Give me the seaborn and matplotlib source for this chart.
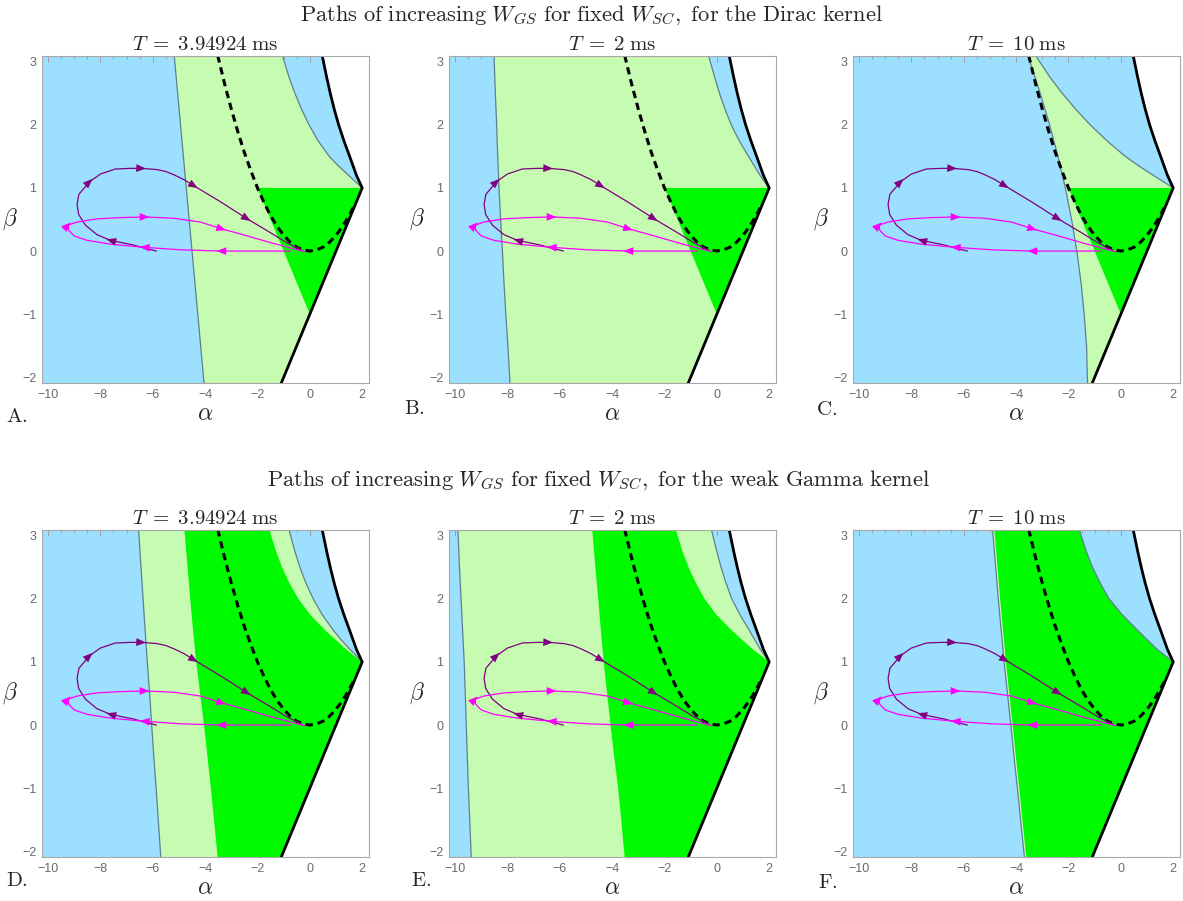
import numpy as np
import pandas as pd
import matplotlib
matplotlib.use("Agg")
import matplotlib.pyplot as plt
from matplotlib.ticker import MultipleLocator
import seaborn as sns

sns.set_style("white")
plt.rcParams["mathtext.fontset"] = "cm"
plt.rcParams["font.family"] = ["Liberation Sans", "DejaVu Sans"]

# ---------------------------------------------------------------------------
# Data
# ---------------------------------------------------------------------------
row_titles = [
    r"$\mathrm{Paths\ of\ increasing\ }W_{GS}\mathrm{\ for\ fixed\ }W_{SC}\mathrm{,\ for\ the\ Dirac\ kernel}$",
    r"$\mathrm{Paths\ of\ increasing\ }W_{GS}\mathrm{\ for\ fixed\ }W_{SC}\mathrm{,\ for\ the\ weak\ Gamma\ kernel}$",
]
panel_letters = ["A.", "B.", "C.", "D.", "E.", "F."]
panel_T = ["3.94924", "2", "10", "3.94924", "2", "10"]

# beta levels at which the near-vertical boundaries are sampled
beta_edge = [3.1, 2.5, 2.0, 1.5, 1.0, 0.5, 0.0, -0.5, -1.0, -1.5, -2.1]
# beta levels at which the curved boundaries ending at (2, 1) are sampled
beta_up = [3.1, 2.75, 2.5, 2.25, 2.0, 1.75, 1.5, 1.35, 1.2, 1.1, 1.0]

# left boundary (grey line) of each panel, alpha at beta_edge
left_A = [-5.18, -5.05, -4.94, -4.83, -4.72, -4.61, -4.50, -4.39, -4.28, -4.17, -4.04]
left_B = [-8.51, -8.46, -8.41, -8.37, -8.32, -8.26, -8.19, -8.13, -8.06, -7.98, -7.90]
left_C = [-3.55, -3.08, -2.72, -2.40, -2.12, -1.88, -1.68, -1.52, -1.40, -1.31, -1.27]
left_D = [-6.54, -6.45, -6.37, -6.29, -6.21, -6.12, -6.04, -5.96, -5.87, -5.79, -5.69]
left_E = [-9.89, -9.83, -9.77, -9.71, -9.65, -9.61, -9.57, -9.53, -9.49, -9.44, -9.38]
left_F = [-4.90, -4.78, -4.68, -4.57, -4.46, -4.33, -4.20, -4.08, -3.95, -3.83, -3.68]

# upper grey curve of each panel, alpha at beta_up
upper_A = [-1.05, -0.79, -0.57, -0.32, -0.03, 0.31, 0.74, 1.09, 1.48, 1.74, 2.0]
upper_B = [-0.32, -0.08, 0.10, 0.31, 0.55, 0.85, 1.21, 1.43, 1.65, 1.82, 2.0]
upper_C = [-3.26, -2.70, -2.24, -1.73, -1.17, -0.54, 0.17, 0.68, 1.24, 1.62, 2.0]
upper_D = [-0.80, -0.57, -0.38, -0.15, 0.13, 0.47, 0.90, 1.20, 1.53, 1.77, 2.0]
upper_E = [-0.21, 0.00, 0.16, 0.35, 0.57, 0.88, 1.24, 1.45, 1.66, 1.83, 2.0]
upper_F = [-1.59, -1.32, -1.08, -0.79, -0.45, 0.05, 0.64, 1.01, 1.38, 1.69, 2.0]

# stable (bright green) region for the weak Gamma kernel
green_left_D = [-4.79, -4.67, -4.57, -4.46, -4.34, -4.19, -4.04, -3.91, -3.78, -3.66, -3.52]
green_left_E = [-4.76, -4.64, -4.53, -4.43, -4.32, -4.19, -4.06, -3.92, -3.77, -3.65, -3.52]
green_left_F = [-4.83, -4.71, -4.61, -4.50, -4.39, -4.26, -4.13, -4.01, -3.88, -3.76, -3.61]
green_top_D = [-1.55, -1.29, -1.06, -0.78, -0.44, 0.01, 0.59, 0.99, 1.38, 1.69, 2.0]
green_top_E = [-1.57, -1.31, -1.08, -0.80, -0.47, -0.02, 0.57, 0.97, 1.37, 1.69, 2.0]
green_top_F = upper_F

# stable triangle for the Dirac kernel
tri_alpha = [-2.0, 2.0, 0.0]
tri_beta = [1.0, 1.0, -1.0]

# outer (black) boundary
black_up_alpha = [0.47, 0.645, 0.78, 0.93, 1.10, 1.30, 1.52, 1.65, 1.78, 1.89, 2.0]
black_low_alpha = [2.0, -1.1]
black_low_beta = [1.0, -2.1]

# dashed curve
dash_alpha = [-3.52, -3.25, -3.0, -2.75, -2.5, -2.25, -2.0, -1.75, -1.5, -1.25,
              -1.0, -0.75, -0.5, -0.25, 0.0, 0.25, 0.5, 0.75, 1.0, 1.25, 1.5, 1.7]
dash_beta = [3.1, 2.64, 2.25, 1.89, 1.56, 1.27, 1.0, 0.77, 0.56, 0.39,
             0.25, 0.14, 0.06, 0.02, 0.0, 0.02, 0.06, 0.14, 0.25, 0.39, 0.56, 0.72]

# paths of increasing W_GS
purple_alpha = [-5.86, -6.34, -6.73, -7.62, -8.13, -8.57, -8.83, -8.89, -8.82, -8.41,
                -8.0, -7.43, -6.85, -6.41, -5.83, -5.5, -5.2, -4.8, -4.41, -3.41,
                -2.39, -1.50, -0.87, -0.29]
purple_beta = [0.0, 0.05, 0.095, 0.17, 0.26, 0.41, 0.58, 0.74, 0.90, 1.10,
               1.22, 1.30, 1.31, 1.31, 1.29, 1.26, 1.21, 1.13, 1.03, 0.78,
               0.51, 0.29, 0.13, 0.01]
purple_arrows = [3, 9, 13, 18, 20]

magenta_alpha = [-0.74, -2.14, -3.41, -4.94, -6.34, -7.62, -8.51, -9.0, -9.21, -9.24,
                 -8.89, -8.13, -7.24, -6.28, -5.2, -4.18, -3.35, -2.39, -1.38, -0.2]
magenta_beta = [0.0, 0.0, 0.0, 0.02, 0.06, 0.11, 0.17, 0.24, 0.33, 0.41,
                0.46, 0.51, 0.53, 0.54, 0.52, 0.46, 0.35, 0.24, 0.12, -0.01]
magenta_arrows = [2, 4, 9, 13, 16]

# ---------------------------------------------------------------------------
# Styling
# ---------------------------------------------------------------------------
C_BLUE = "#9cdfff"
C_LGREEN = "#c6fbb2"
C_GREEN = "#00fb00"
C_EDGE = "#5f7f8e"
C_PURPLE = "#800080"
C_MAGENTA = "#ff00ff"
XLIM = (-10.23, 2.26)
YLIM = (-2.09, 3.09)

panels = [
    dict(left=left_A, upper=upper_A, green=None),
    dict(left=left_B, upper=upper_B, green=None),
    dict(left=left_C, upper=upper_C, green=None),
    dict(left=left_D, upper=upper_D, green=(green_left_D, green_top_D)),
    dict(left=left_E, upper=upper_E, green=(green_left_E, green_top_E)),
    dict(left=left_F, upper=upper_F, green=(green_left_F, green_top_F)),
]

paths = pd.concat([
    pd.DataFrame({"alpha": purple_alpha, "beta": purple_beta, "path": "purple"}),
    pd.DataFrame({"alpha": magenta_alpha, "beta": magenta_beta, "path": "magenta"}),
], ignore_index=True)

W, H = 1183, 901
fig = plt.figure(figsize=(W / 100, H / 100), dpi=100)

col_left = [42, 449, 853]
row_top = [56, 530]
size = 327
letter_pos = [(17, 416), (414, 409), (827, 410), (17, 880), (421, 880), (828, 883)]


def add_arrows(ax, xs, ys, idx, color):
    for i in idx:
        x0, y0 = xs[i - 1], ys[i - 1]
        x1, y1 = xs[i], ys[i]
        x2, y2 = xs[min(i + 1, len(xs) - 1)], ys[min(i + 1, len(ys) - 1)]
        # direction in display space
        p0 = ax.transData.transform((x0, y0))
        p2 = ax.transData.transform((x2, y2))
        d = p2 - p0
        d = d / np.hypot(*d)
        centre = ax.transData.transform((x1, y1))
        tip = ax.transData.inverted().transform(centre + d * 4)
        tail = ax.transData.inverted().transform(centre - d * 4)
        ax.annotate("", xy=tip, xytext=tail,
                    arrowprops=dict(arrowstyle="-|>,head_length=0.7,head_width=0.28",
                                    color=color, lw=0, shrinkA=0, shrinkB=0,
                                    mutation_scale=10),
                    zorder=6)


for k, pan in enumerate(panels):
    r, c = divmod(k, 3)
    ax = fig.add_axes([col_left[c] / W, (H - row_top[r] - size) / H, size / W, size / H])
    ax.set_xlim(*XLIM)
    ax.set_ylim(*YLIM)
    ax.set_facecolor(C_BLUE)

    left = pan["left"]
    upper = pan["upper"]
    # region between the left grey line and the upper grey curve
    lg_x = list(left) + [black_low_alpha[1], 2.0] + list(upper[::-1])
    lg_y = list(beta_edge) + [black_low_beta[1], 1.0] + list(beta_up[::-1])
    ax.fill(lg_x, lg_y, color=C_LGREEN, lw=0, zorder=1)

    # stable region
    if pan["green"] is None:
        ax.fill(tri_alpha, tri_beta, color=C_GREEN, lw=0, zorder=1.5)
    else:
        gl, gt = pan["green"]
        g_x = list(gl) + [black_low_alpha[1], 2.0] + list(gt[::-1])
        g_y = list(beta_edge) + [black_low_beta[1], 1.0] + list(beta_up[::-1])
        ax.fill(g_x, g_y, color=C_GREEN, lw=0, zorder=1.5)

    # outside of the outer boundary
    w_x = [black_low_alpha[1], 2.0] + black_up_alpha[::-1][1:] + [3.0, 3.0]
    w_y = [black_low_beta[1], 1.0] + beta_up[::-1][1:] + [3.1, -2.1]
    ax.fill(w_x, w_y, color="white", lw=0, zorder=1.8)

    # grey boundaries
    ax.plot(left, beta_edge, color=C_EDGE, lw=0.9, zorder=2)
    ax.plot(upper, beta_up, color=C_EDGE, lw=0.9, zorder=2)

    # outer boundary
    bx = black_low_alpha[::-1] + black_up_alpha[::-1][1:]
    by = black_low_beta[::-1] + beta_up[::-1][1:]
    ax.plot(bx, by, color="black", lw=2.0, zorder=3, solid_joinstyle="miter")

    # dashed curve
    ax.plot(dash_alpha, dash_beta, color="black", lw=2.2, ls=(0, (2.4, 1.6)), zorder=4)

    # paths
    sns.lineplot(data=paths, x="alpha", y="beta", hue="path",
                 palette={"purple": C_PURPLE, "magenta": C_MAGENTA},
                 sort=False, estimator=None, legend=False, lw=0.9, ax=ax, zorder=5)
    add_arrows(ax, purple_alpha, purple_beta, purple_arrows, C_PURPLE)
    add_arrows(ax, magenta_alpha, magenta_beta, magenta_arrows, C_MAGENTA)

    # frame and ticks
    ax.xaxis.set_major_locator(MultipleLocator(2))
    ax.xaxis.set_minor_locator(MultipleLocator(0.5))
    ax.yaxis.set_major_locator(MultipleLocator(1))
    ax.yaxis.set_minor_locator(MultipleLocator(0.2))
    ax.tick_params(which="both", direction="in", top=True, right=True,
                   color="#a0a0a0", labelcolor="#6a6a6a", labelsize=9, width=0.7)
    ax.tick_params(which="major", length=4.5, pad=4)
    ax.tick_params(which="minor", length=2.5)
    for s in ax.spines.values():
        s.set_color("#a8a8a8")
        s.set_linewidth(0.8)
        s.set_zorder(10)
    ax.set_xlabel(r"$\alpha$", fontsize=17, labelpad=2)
    ax.set_ylabel(r"$\beta$", fontsize=17, rotation=0, labelpad=9, va="center")
    ax.set_title(r"$T\;=\;%s\;\mathrm{ms}$" % panel_T[k], fontsize=15, pad=4)

    lx, ly = letter_pos[k]
    fig.text(lx / W, 1 - ly / H, r"$\mathrm{%s}$" % panel_letters[k], fontsize=15,
             ha="center", va="center")

fig.text(592 / W, 1 - 15 / H, row_titles[0], fontsize=16.2, ha="center", va="center")
fig.text(599 / W, 1 - 480 / H, row_titles[1], fontsize=16.2, ha="center", va="center")

fig.savefig("out.png", dpi=100)
